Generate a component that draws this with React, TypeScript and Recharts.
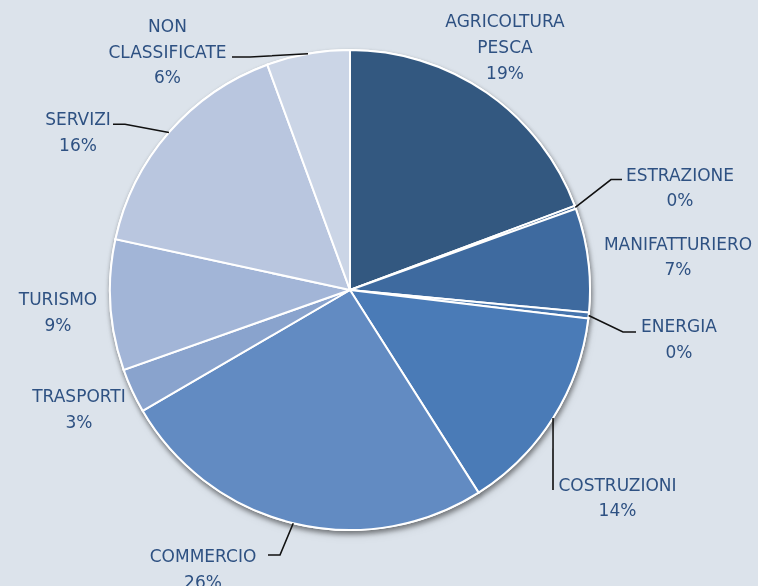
import React from "react";
import { PieChart, Pie, Cell } from "recharts";

const categories = [
  "AGRICOLTURA PESCA",
  "ESTRAZIONE",
  "MANIFATTURIERO",
  "ENERGIA",
  "COSTRUZIONI",
  "COMMERCIO",
  "TRASPORTI",
  "TURISMO",
  "SERVIZI",
  "NON CLASSIFICATE",
];
const shares = [19.3, 0.2, 7.0, 0.4, 14.1, 25.6, 3.0, 8.8, 16.0, 5.6];
const labelLines = [
  ["AGRICOLTURA", "PESCA"],
  ["ESTRAZIONE"],
  ["MANIFATTURIERO"],
  ["ENERGIA"],
  ["COSTRUZIONI"],
  ["COMMERCIO"],
  ["TRASPORTI"],
  ["TURISMO"],
  ["SERVIZI"],
  ["NON", "CLASSIFICATE"],
];
const colors = [
  "#335880",
  "#3a6190",
  "#3e6a9f",
  "#4574ad",
  "#4a7bb7",
  "#628bc2",
  "#89a3cd",
  "#a2b5d7",
  "#b9c6df",
  "#cbd5e6",
];

// label placement relative to pie centre: text centre x, first baseline y,
// optional leader (elbow point and end point)
type Layout = { dx: number; dy: number; leader?: [number, number, number, number] };
const labelLayout: Layout[] = [
  { dx: 155, dy: -263 },
  { dx: 330, dy: -109.5, leader: [261, -110.5, 272, -110.5] },
  { dx: 328, dy: -40.5 },
  { dx: 329, dy: 42, leader: [273, 42, 286, 42] },
  { dx: 267.5, dy: 200.5, leader: [203, 200, 203, 200] },
  { dx: -147, dy: 271.7, leader: [-70, 265, -82, 265] },
  { dx: -271, dy: 111.7 },
  { dx: -292, dy: 15 },
  { dx: -272, dy: -165, leader: [-225, -165.7, -237, -165.7] },
  { dx: -182.5, dy: -258.3, leader: [-100, -233, -118, -233] },
];

const data = categories.map((name, i) => ({ name, value: shares[i] }));

const RAD = Math.PI / 180;
const LINE_H = 25.8;
const TEXT_COLOR = "#2e5182";
const FONT = "'DejaVu Sans', sans-serif";
const BG = "#dce3eb";

const renderLabel = (props: any) => {
  const { cx, cy, midAngle, outerRadius, percent, index } = props;
  const lay = labelLayout[index];
  const lines = [...labelLines[index], `${Math.round(percent * 100)}%`];
  const tx = cx + lay.dx;
  const ty = cy + lay.dy;
  let leader = null;
  if (lay.leader) {
    const sx = cx + Math.cos(-midAngle * RAD) * outerRadius;
    const sy = cy + Math.sin(-midAngle * RAD) * outerRadius;
    const [ex, ey, fx, fy] = lay.leader;
    leader = (
      <polyline
        points={`${sx},${sy} ${cx + ex},${cy + ey} ${cx + fx},${cy + fy}`}
        fill="none"
        stroke="#111"
        strokeWidth={1.6}
      />
    );
  }
  return (
    <g key={`lbl-${index}`}>
      {leader}
      <text
        x={tx}
        y={ty}
        textAnchor="middle"
        fill={TEXT_COLOR}
        fontFamily={FONT}
        fontSize={17}
      >
        {lines.map((l, i) => (
          <tspan key={i} x={tx} y={ty + i * LINE_H}>
            {l}
          </tspan>
        ))}
      </text>
    </g>
  );
};

export default function App() {
  return (
    <div
      style={{
        position: "absolute",
        left: 0,
        top: 0,
        width: 758,
        height: 586,
        background: BG,
        overflow: "hidden",
      }}
    >
      <style>{`.shadow-pie { filter: drop-shadow(1px 3px 2.5px rgba(0,0,0,0.28)); }`}</style>
      <PieChart width={758} height={586} margin={{ top: 0, right: 0, bottom: 0, left: 0 }}>
        <Pie
          className="shadow-pie"
          data={data}
          dataKey="value"
          nameKey="name"
          cx={350}
          cy={290}
          outerRadius={240}
          startAngle={90}
          endAngle={-270}
          stroke="#ffffff"
          strokeWidth={2}
          fill={BG}
          label={false}
          labelLine={false}
          isAnimationActive={false}
        />
        <Pie
          data={data}
          dataKey="value"
          nameKey="name"
          cx={350}
          cy={290}
          outerRadius={240}
          startAngle={90}
          endAngle={-270}
          stroke="#ffffff"
          strokeWidth={2}
          label={renderLabel}
          labelLine={false}
          isAnimationActive={false}
        >
          {data.map((d, i) => (
            <Cell key={d.name} fill={colors[i]} />
          ))}
        </Pie>
      </PieChart>
    </div>
  );
}
